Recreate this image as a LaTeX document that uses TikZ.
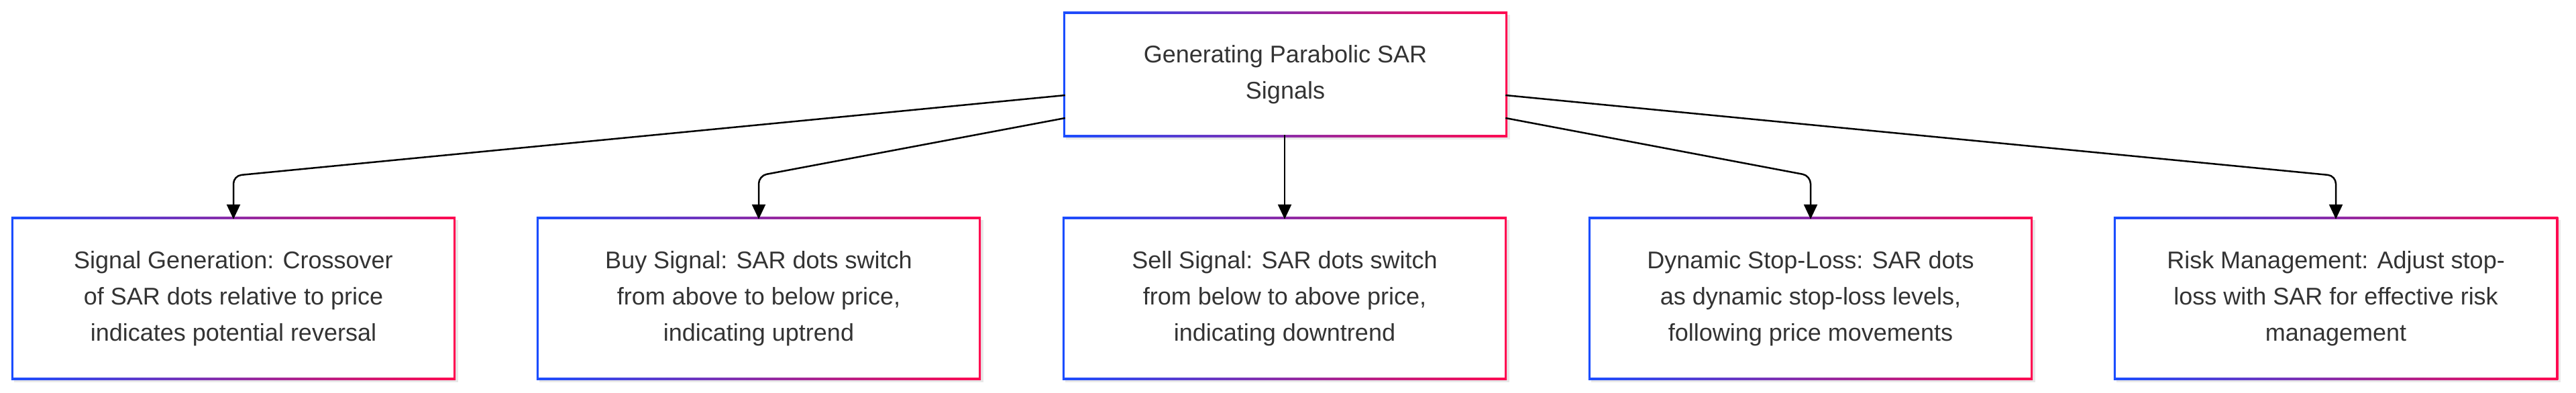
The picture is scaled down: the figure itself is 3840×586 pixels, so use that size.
\documentclass[tikz,border=0pt]{standalone}
\usepackage{fontspec}
\setmainfont{Liberation Sans}
\usetikzlibrary{arrows.meta, backgrounds, shadows}
\definecolor{edgeblue}{HTML}{1A4DFF}
\definecolor{edgered}{HTML}{FF0A50}
\definecolor{txt}{HTML}{333333}
\tikzset{
	sarbox/.style={fill=white, text=txt, align=center, inner sep=0pt,
		minimum width=656pt, minimum height=236pt,
		font=\fontsize{36}{54}\selectfont},
	topbox/.style={sarbox, minimum height=180pt},
	link/.style={line width=2.5pt, rounded corners=12pt, -{Triangle[length=22pt, width=20pt]}},
}
\newcommand{\gradframe}[1]{%
	\shade[left color=edgeblue, right color=edgered, drop shadow={opacity=0.18, shadow xshift=4pt, shadow yshift=-4pt}]
		([shift={(-3pt,3pt)}]#1.north west) rectangle ([shift={(3pt,-3pt)}]#1.south east);}
\begin{document}
\begin{tikzpicture}[x=1pt, y=-1pt]
	\useasboundingbox (0,0) rectangle (3840,586);
	\node[topbox] (top) at (1916,111) {Generating Parabolic SAR\\Signals};
	\node[sarbox] (gen) at (348,445) {Signal Generation: Crossover\\of SAR dots relative to price\\indicates potential reversal};
	\node[sarbox] (buy) at (1131,445) {Buy Signal: SAR dots switch\\from above to below price,\\indicating uptrend};
	\node[sarbox] (sell) at (1915,445) {Sell Signal: SAR dots switch\\from below to above price,\\indicating downtrend};
	\node[sarbox] (stop) at (2699,445) {Dynamic Stop-Loss: SAR dots\\as dynamic stop-loss levels,\\following price movements};
	\node[sarbox] (risk) at (3482,445) {Risk Management: Adjust stop-\\loss with SAR for effective risk\\management};
	\begin{scope}[on background layer]
		\foreach \n in {top, gen, buy, sell, stop, risk} {\gradframe{\n}}
	\end{scope}
	% connectors
	\draw[link] ([yshift=-31pt]top.west) -- (gen.north |- 0,262) -- (gen.north);
	\draw[link] ([yshift=-65pt]top.west) -- (buy.north |- 0,262) -- (buy.north);
	\draw[link] (top.south -| sell.north) -- (sell.north);
	\draw[link] ([yshift=-65pt]top.east) -- (stop.north |- 0,262) -- (stop.north);
	\draw[link] ([yshift=-31pt]top.east) -- (risk.north |- 0,262) -- (risk.north);
\end{tikzpicture}
\end{document}
